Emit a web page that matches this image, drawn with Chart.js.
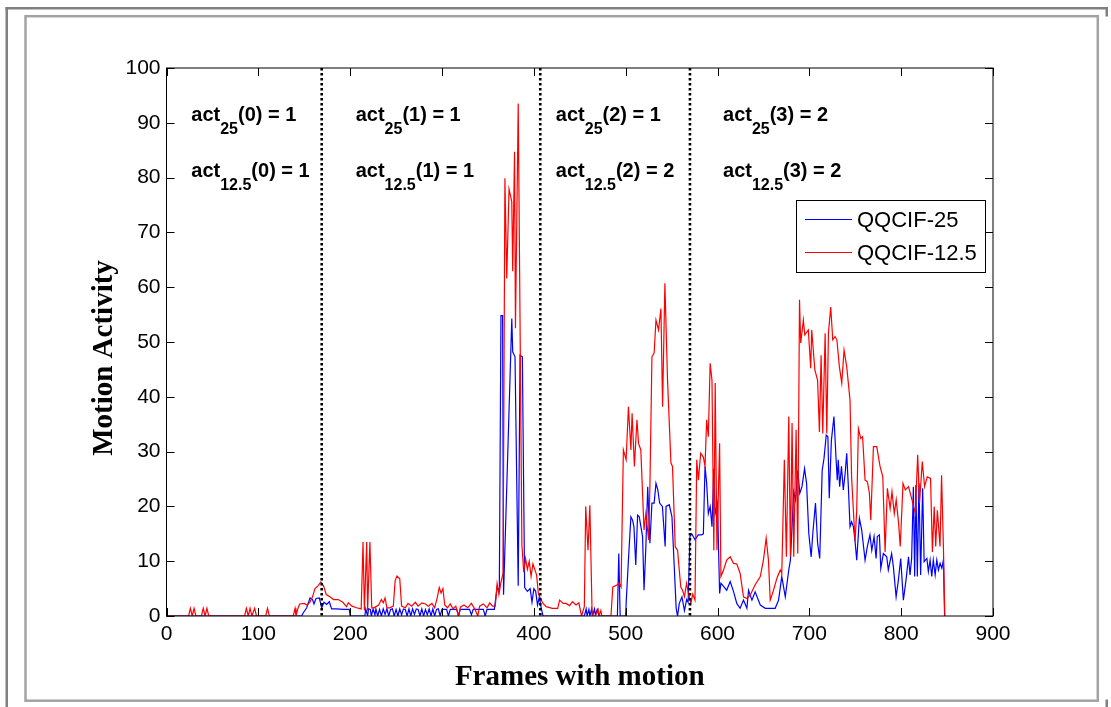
<!DOCTYPE html>
<html>
<head>
<meta charset="utf-8">
<title>Motion Activity</title>
<script src="https://cdn.jsdelivr.net/npm/chart.js@4.4.1/dist/chart.umd.min.js"></script>
<style>
  html, body { margin: 0; padding: 0; background: #fff; }
  #wrap { width: 1111px; height: 707px; }
  canvas { display: block; }
</style>
</head>
<body>
<div id="wrap"><canvas id="chart" width="1111" height="707"></canvas></div>
<script>
/* ------------------ data ------------------ */
// [frame, motion activity]
const qqcif25 = [
  [0,0],[147,0],[149,0.6],[152.7,1.5],[156.3,3.3],[159,3],[160.6,2.2],[162.8,3.2],[166.4,3.3],[169,1.5],
  [171.5,2.5],[174.4,2.1],[177.3,2.6],[179.8,1.3],[185,1.3],[192.6,1.2],[199,1.2],[200,0],[216,0],[217,1.3],
  [219,0],[220,1.3],[222,1.2],[223,0],[225,1.3],[227,0.2],[228,1.3],[230,0],[232,1.2],[234,0],
  [236,1.3],[238,0.3],[240,1.3],[242,0],[244,1.2],[246,1.3],[248,0],[250,1.2],[252,0],[254,1.3],
  [256,0.2],[258,1.3],[260,1.2],[262,0],[264,1.3],[266,0],[268,1.3],[270,0.3],[272,1.3],[274,1.2],
  [276,0],[278,1.3],[280,0],[282,1.2],[284,0.2],[286,1.3],[288,0],[290,1.3],[292,0],[294,1.2],
  [296,1.3],[298,0],[300,1.2],[305,1.2],[307,0],[309,1.2],[316,1.2],[318,0],[320,1.2],[330,1.2],
  [332,0.2],[334,1.2],[345,1.2],[347,0],[349,1.2],[357,1.2],[360,5.2],[362.4,4.6],[364.2,54.8],[366,54.8],
  [367,3.9],[376,54.3],[377,48.2],[379.5,47.3],[383,5.5],[385,47.6],[387.5,47.3],[390,5.2],[393,4.5],[396,5],
  [398,2.5],[400,5],[402,4.5],[404,2],[406,3.5],[408,1.5],[410,0],[455,0],[457,1.3],[458,0],
  [460,1.2],[461,0],[463,1.3],[464,0],[466,1.3],[467,0.2],[469,1.2],[471,0],[491,0],[492.5,11.4],
  [494,0],[500,0],[500.5,2.3],[503,10.2],[505.7,18.1],[507.5,17.5],[509,16.3],[511,9.3],[513,18.4],[514.8,18.1],
  [516.6,16.3],[518.4,14.5],[520,4.7],[522,12.7],[524,23.6],[526.4,13.3],[528.6,20.6],[531,20.6],[533,24.2],[535,23],
  [537,20.6],[540,20],[543,12.7],[544,20],[547.5,20.3],[550.4,18.1],[555,1.4],[556.5,0],[558.4,2.3],[561.3,3.5],
  [564,1],[566.4,3],[568,2.5],[570,14.5],[572,15],[575.5,13.9],[579,14.8],[582.7,14.8],[584.6,15],[586.4,27.3],
  [588.2,24.2],[590,18.7],[592,20],[594,16.3],[596,26.9],[597.5,18.7],[600,20.6],[602.3,4.1],[603.7,6],[606.6,5.4],
  [610,4.7],[613.8,6.3],[617.4,4.5],[621,2.3],[624.6,1.4],[628.3,2.9],[632,1.4],[633.8,4.7],[637.5,2.9],[641,4.4],
  [646.6,2],[652,1.4],[657.4,1.4],[662.8,1.4],[666.5,2.9],[670,7.2],[673.8,3.5],[677.6,8.4],[679.4,10.2],[683,22.7],
  [685,21.2],[687.4,26.6],[689.6,22.4],[692,23.6],[694.8,26.9],[697,24.2],[699.4,15.1],[702,10.8],[703.8,15.1],[706.7,20.6],
  [709,13.3],[711.3,10.5],[714,26.6],[716,28.8],[718.4,33],[720.2,32.7],[721.7,21.5],[724,32],[726.8,36.4],[729,29],
  [730.4,24.8],[731.5,28.5],[733,23.6],[735,27.3],[737,23],[739,26],[740.7,29.7],[742.5,23.6],[744.3,16.3],[746,17.2],
  [748,16.3],[749.8,13.6],[751.6,10.2],[754.5,17.8],[757,15.7],[760.7,10.2],[763.2,12.7],[766,14.8],[768,12],[770.5,14.5],
  [772.7,10.5],[774,14.5],[776.3,14.8],[777.8,8.7],[780.6,11.4],[784.3,10.8],[786,8.4],[789.6,11.4],[791.5,9],[794.5,3.5],
  [797,6.6],[799.5,10.5],[802.4,2.9],[805.3,6.6],[808,10.8],[809.6,7.5],[811.4,10.5],[813.3,23.6],[814.7,7.2],[816,23.9],
  [817.6,7.2],[819.4,24.2],[821.2,7.5],[823.4,23.3],[825,9.9],[828,10.5],[829.6,8.1],[831.5,10.2],[833.3,7.2],[835,10.2],
  [837,7.5],[838.8,10.2],[840.6,8.4],[842.4,9.6],[844.3,8.7],[846,10.2],[847.3,0]
];
const qqcif125 = [
  [0,0],[24,0],[26,1.4],[28,0],[30,1.4],[32,0],[38,0],[40,1.4],[42,0],[44,1.4],
  [46,0],[85,0],[87,1.4],[89,0],[91,1.4],[93,0],[96,1.4],[98,0],[108,0],[110,1.4],
  [112,0],[138,0],[140,1.4],[141,0],[143,1.3],[145,2.2],[150,2.3],[153,2],[156,2.5],[159,3.5],
  [161.7,5],[165,5.5],[168,6.2],[171,5.5],[174,3.9],[178,3.5],[182,3],[187,3],[192,2.5],[196,1.7],
  [198,2.4],[202,1.8],[207,1.5],[212,1.3],[214,13.5],[215.5,1],[218,13.5],[219,1],[221.5,13.5],[223.5,1.5],
  [226,1.5],[231,2],[234,3],[236,2.4],[238,3.3],[240,1.5],[243,1.5],[247,1.8],[249,6.5],[251,7.3],
  [254,6.8],[256,1.8],[260,1.5],[263,2.3],[267,1.8],[271,2.5],[274,1.8],[278,2.4],[282,2.2],[285,1.8],
  [289,2.3],[292,1.5],[295,3.5],[297,5.2],[299,4.2],[301,5],[303,2],[306,1.5],[309,2.2],[312,1.3],
  [315,1.8],[318,0],[320,1.6],[324,2],[328,1.5],[332,2.3],[336,1.2],[339,0],[341,1.8],[345,2.2],
  [349,1.5],[352,2.4],[355,1.8],[358,1.8],[360,5.9],[362,3.9],[364,6],[366.5,7.8],[368.5,79.9],[370.5,61.6],
  [373,77.9],[376,75.6],[377,62.9],[379,84.7],[380,52.5],[383,93.5],[387,13],[389,8],[391,10.5],[393,8.5],
  [395,10],[397,7.2],[399,9.5],[401,8.5],[403,7.5],[405,4],[407,3.3],[410,2.3],[413.5,1.7],[420,1.4],
  [426,1.4],[428,2.9],[432,2.3],[435,2.3],[439,1.9],[442,2.6],[446,2],[449,2.4],[452,0],[455,1.7],
  [456.5,20],[459,12],[461,20.2],[463.5,0],[467,0],[470,1.2],[471,0],[473,1],[474,0],[484,0],
  [486,5.3],[490,5.6],[493,6],[495,5.3],[497.5,30.3],[500.5,28.5],[503,38.2],[505.7,30.3],[507,37],[509.5,27.3],
  [512.3,35.8],[514,31.5],[516.5,30.3],[520,15.7],[522,18.7],[525,13.9],[526.4,23.6],[528.6,47.3],[531,48],[533,54],
  [535.8,52.2],[538.4,56.1],[540.2,38.2],[542.7,60.7],[545.6,43],[549.3,27.9],[551,27.3],[554,12.6],[556.5,12],[560,5.3],
  [562,4.7],[564,3.5],[566.4,6],[568,4.4],[571,2.3],[573,4],[575.5,2.9],[577.4,28.5],[579.2,24.8],[581.7,29.7],
  [584.6,29],[586.4,27.3],[588.2,35.8],[590,32.7],[592,46.1],[594,43],[596,12],[597.5,42.5],[599.4,12],[602.3,31.5],
  [603.7,7.2],[606.6,8.4],[610,10.2],[613.8,10.8],[617.4,9.6],[621,9.5],[624.6,7.8],[628.3,3.5],[632,3.2],[635.6,3.8],
  [641,5.7],[646.6,7.2],[650,10.2],[653,14.2],[655.5,10.2],[657.4,2.9],[661,4.7],[664.7,6.9],[668.3,8.4],[670,7.8],
  [672.8,28.5],[675,10.8],[677.6,36.4],[679.4,10.8],[681.2,35.2],[683,10.8],[685.6,34],[687.4,11.4],[689.3,57.7],[690.6,49.8],
  [693.5,54],[695,51.3],[698.9,52.2],[701.5,45.2],[702.6,52.2],[706,44.9],[709,43],[711,33.6],[712.8,47.6],[714.6,33.3],
  [717.2,51.6],[719,33.3],[720.8,51.6],[723.3,56.4],[725.5,50.4],[728,51],[730,50.4],[732.7,45.5],[735.3,42.5],[737.8,48.5],
  [740.7,45.5],[744.3,39.4],[746,25.4],[749.8,13.6],[751.6,19.3],[753.4,34.2],[756,32.4],[758,32.7],[760.7,24.8],[763.2,24.5],
  [765.4,22.4],[766.9,17.5],[769.8,30.9],[773.4,30.9],[777,27.3],[780,25.4],[782.5,11.7],[785,23.3],[788,19.6],[790,22.7],
  [792.5,18.7],[794.6,21.2],[797.2,16.9],[799,12.7],[802,24.2],[804.5,23],[808,23.6],[811.8,21.2],[815.4,18.7],[818,29.4],
  [820,20.6],[823,28.2],[825.5,23.6],[828.4,25.4],[832,25.1],[834,11.7],[836,20],[837.6,12.7],[839.4,19.3],[842.3,12.7],
  [844,25.7],[846,12.7],[847.5,0]
];

const seriesNames  = ["QQCIF-25", "QQCIF-12.5"];
const seriesColors = ["#0000ff", "#ff0000"];

// segment boundaries (dotted lines) and the act() labels per segment
const boundaries = [169, 407, 570];
const segLabelFrames = [27, 206, 424, 606];
const act25  = ["1", "1", "1", "2"];
const act125 = ["1", "1", "2", "2"];
const labelRows = [90.3, 80.1];   // baseline values of the two label rows

const X_MIN = 0, X_MAX = 900, X_STEP = 100;
const Y_MIN = 0, Y_MAX = 100, Y_STEP = 10;
const X_TITLE = 'Frames with motion';
const Y_TITLE = 'Motion Activity';

/* ------------------ fonts ------------------ */
const SANS  = '"Liberation Sans", Arial, Helvetica, sans-serif';
const SERIF = '"Liberation Serif", "Times New Roman", serif';

/* ------------------ decorations ------------------ */
function drawAct(ctx, x, y, sub, idx, val) {
  ctx.font = 'bold 20px ' + SANS;
  ctx.fillText('act', x, y);
  x += ctx.measureText('act').width;
  ctx.font = 'bold 16px ' + SANS;
  ctx.fillText(sub, x, y + 13);
  x += ctx.measureText(sub).width;
  ctx.font = 'bold 20px ' + SANS;
  ctx.fillText('(' + idx + ') = ' + val, x, y);
}

const figurePlugin = {
  id: 'figure',
  beforeDraw(chart) {
    const ctx = chart.ctx;
    ctx.save();
    ctx.fillStyle = '#fff';
    ctx.fillRect(0, 0, chart.width, chart.height);
    // outer frame (top + left, with small end marks)
    ctx.fillStyle = '#808080';
    ctx.fillRect(5.5, 7, 1102.5, 2.5);
    ctx.fillRect(5.5, 7, 2.5, 700);
    ctx.fillRect(1105.5, 7, 2.5, 9.5);
    ctx.fillRect(1105.5, 699.5, 2.5, 7.5);
    // inner frame
    ctx.strokeStyle = '#a3a3a3';
    ctx.lineWidth = 2.5;
    ctx.strokeRect(25.5, 16.2, 1072.3, 684.5);
    ctx.restore();
  },
  afterDatasetsDraw(chart) {
    const ctx = chart.ctx, a = chart.chartArea;
    const xs = chart.scales.x, ys = chart.scales.y;
    ctx.save();

    // axis box + inward ticks
    ctx.strokeStyle = '#000';
    ctx.lineWidth = 1;
    ctx.strokeRect(a.left, a.top, a.right - a.left, a.bottom - a.top);
    ctx.beginPath();
    xs.ticks.forEach(t => {
      const px = Math.round(xs.getPixelForValue(t.value)) + 0.5;
      ctx.moveTo(px, a.bottom); ctx.lineTo(px, a.bottom - 8);
      ctx.moveTo(px, a.top);    ctx.lineTo(px, a.top + 8);
    });
    ys.ticks.forEach(t => {
      const py = Math.round(ys.getPixelForValue(t.value)) + 0.5;
      ctx.moveTo(a.left, py);  ctx.lineTo(a.left + 8, py);
      ctx.moveTo(a.right, py); ctx.lineTo(a.right - 8, py);
    });
    ctx.stroke();

    // dotted segment boundaries
    ctx.setLineDash([2.5, 2.5]);
    ctx.lineWidth = 2.6;
    ctx.beginPath();
    boundaries.forEach(f => {
      const px = xs.getPixelForValue(f);
      ctx.moveTo(px, a.top); ctx.lineTo(px, a.bottom);
    });
    ctx.stroke();
    ctx.setLineDash([]);

    // act labels
    ctx.fillStyle = '#000';
    ctx.textBaseline = 'alphabetic';
    ctx.textAlign = 'left';
    segLabelFrames.forEach((f, i) => {
      const px = xs.getPixelForValue(f);
      drawAct(ctx, px, ys.getPixelForValue(labelRows[0]), '25', i, act25[i]);
      drawAct(ctx, px, ys.getPixelForValue(labelRows[1]), '12.5', i, act125[i]);
    });

    // y axis title (MATLAB centres it a little below the axis middle)
    ctx.save();
    ctx.translate(105, 358);
    ctx.rotate(-Math.PI / 2);
    ctx.font = 'bold 29px ' + SERIF;
    ctx.textAlign = 'center';
    ctx.textBaseline = 'middle';
    ctx.fillText(Y_TITLE, 0, 0);
    ctx.restore();

    // legend box (upper right, inside axes)
    const lx = a.right - 197, ly = 200.5, lw = 189, lh = 72;
    ctx.fillStyle = '#fff';
    ctx.fillRect(lx, ly, lw, lh);
    ctx.strokeStyle = '#000';
    ctx.lineWidth = 1;
    ctx.strokeRect(Math.round(lx) + 0.5, ly, lw, lh);
    ctx.font = '22px ' + SANS;
    ctx.textBaseline = 'middle';
    ctx.textAlign = 'left';
    seriesNames.forEach((name, i) => {
      const y = ly + 19 + i * 33;
      ctx.strokeStyle = seriesColors[i];
      ctx.beginPath();
      ctx.moveTo(lx + 9, y); ctx.lineTo(lx + 56, y);
      ctx.stroke();
      ctx.fillStyle = '#000';
      ctx.fillText(name, lx + 61, y + 1);
    });
    ctx.restore();
  }
};

/* ------------------ chart ------------------ */
const toXY = arr => arr.map(([x, y]) => ({ x, y }));

new Chart(document.getElementById('chart'), {
  type: 'line',
  data: {
    datasets: [
      { label: seriesNames[0], data: toXY(qqcif25),  borderColor: seriesColors[0], order: 1 },
      { label: seriesNames[1], data: toXY(qqcif125), borderColor: seriesColors[1], order: 0 }
    ]
  },
  options: {
    responsive: false,
    animation: false,
    devicePixelRatio: 1,
    elements: {
      point: { radius: 0 },
      line: { borderWidth: 1.2, tension: 0, fill: false }
    },
    layout: { padding: { left: 88, top: 68, right: 118, bottom: 12 } },
    plugins: { legend: { display: false }, tooltip: { enabled: false } },
    scales: {
      x: {
        type: 'linear', min: X_MIN, max: X_MAX,
        grid: { display: false, drawTicks: false },
        border: { display: false },
        ticks: { stepSize: X_STEP, autoSkip: false, maxRotation: 0, color: '#000',
                 padding: 6, font: { family: SANS, size: 21 } },
        title: { display: true, text: X_TITLE, color: '#000',
                 padding: 0, font: { family: SERIF, size: 29, weight: 'bold' } },
        afterFit(s) { s.height = 79; }
      },
      y: {
        min: Y_MIN, max: Y_MAX,
        grid: { display: false, drawTicks: false },
        border: { display: false },
        ticks: { stepSize: Y_STEP, autoSkip: false, color: '#000',
                 padding: 6, font: { family: SANS, size: 21 } },
        title: { display: false },
        afterFit(s) { s.width = 78.5; }
      }
    }
  },
  plugins: [figurePlugin]
});
</script>
</body>
</html>
